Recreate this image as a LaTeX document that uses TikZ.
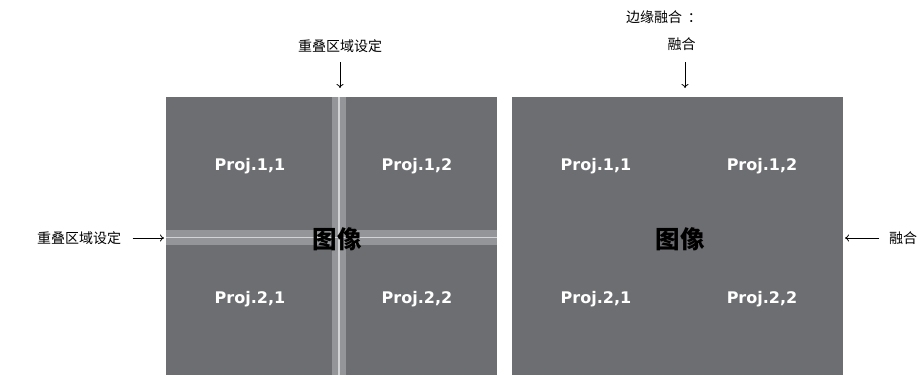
\documentclass[tikz,border=0pt]{standalone}
\usepackage{fontspec}
\setmainfont{DejaVu Sans}
\newfontfamily\cjk{Noto Sans CJK SC}
\usetikzlibrary{positioning,calc,arrows.meta}
\definecolor{panelgray}{HTML}{6D6E71}
\definecolor{bandgray}{HTML}{939598}
\definecolor{linegray}{HTML}{D1D3D4}

\begin{document}
\begin{tikzpicture}[x=1pt,y=-1pt,
    panel/.style={fill=panelgray, minimum width=331pt, minimum height=278pt, anchor=north west, inner sep=0pt},
    proj/.style={text=white, font=\fontsize{16}{16}\selectfont\bfseries},
    img/.style={font=\fontsize{24.5}{24.5}\selectfont\cjk\bfseries},
    note/.style={font=\fontsize{14}{27}\selectfont\cjk, align=left},
    pointer/.style={-{To[length=4pt,width=7pt]}, line width=0.8pt}]
  \useasboundingbox (0,0) rectangle (923,375);

  % Left panel: overlap setting
  \node[panel] (left) at (166,97) {};
  \fill[bandgray] (332,97) rectangle (346,375);
  \fill[bandgray] (166,230) rectangle (497,245);
  \draw[linegray, line width=1.6pt] (339,97) -- (339,375);
  \draw[linegray, line width=1.6pt] (166,237.5) -- (497,237.5);
  \node[proj] (l11) at (250,166) {Proj.1,1};
  \node[proj] (l12) at (417,166) {Proj.1,2};
  \node[proj] (l21) at (250,299) {Proj.2,1};
  \node[proj] (l22) at (417,299) {Proj.2,2};
  \node[img] (limg) at (337,239) {图像};

  % Right panel: edge blending
  \node[panel] (right) at (512,97) {};
  \node[proj] (r11) at (596,166) {Proj.1,1};
  \node[proj] (r12) at (762,166) {Proj.1,2};
  \node[proj] (r21) at (596,299) {Proj.2,1};
  \node[proj] (r22) at (762,299) {Proj.2,2};
  \node[img] (rimg) at (680,239) {图像};

  % Labels
  \node[note] (ovltop) at (340,46) {重叠区域设定};
  \node[note] (ovlleft) at (79,238) {重叠区域设定};
  \node[note] (blendtop) at (664,31) {边缘融合\hspace{0.4em}：\\\hspace*{2.95em}融合};
  \node[note] (blendright) at (903,238) {融合};

  % Arrows
  \coordinate (ovltopend) at (340,88);
  \coordinate (ovlleftend) at (164,238);
  \coordinate (blendtopend) at (685,88);
  \coordinate (blendrightend) at (845,238);
  \draw[pointer] (ovltop.south |- 0,62) -- (ovltopend);
  \draw[pointer] (ovlleft.east) ++(8,0) -- (ovlleftend);
  \draw[pointer] (blendtopend |- 0,62) -- (blendtopend);
  \draw[pointer] (blendright.west) ++(-6,0) -- (blendrightend);
\end{tikzpicture}
\end{document}
